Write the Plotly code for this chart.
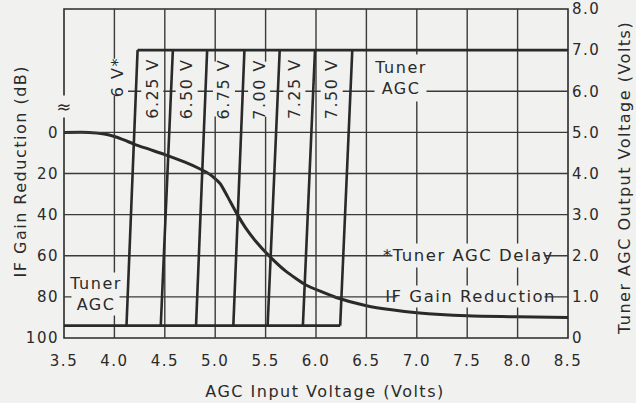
import plotly.graph_objects as go

# ---------------- data ----------------
x_ticks = [3.5, 4.0, 4.5, 5.0, 5.5, 6.0, 6.5, 7.0, 7.5, 8.0, 8.5]
x_tick_labels = ["3.5", "4.0", "4.5", "5.0", "5.5", "6.0", "6.5", "7.0", "7.5", "8.0", "8.5"]
db_ticks = [0, 20, 40, 60, 80, 100]
db_tick_labels = ["0", "20", "40", "60", "80", "100"]
v_ticks = [0, 1, 2, 3, 4, 5, 6, 7, 8]
v_tick_labels = ["0", "1.0", "2.0", "3.0", "4.0", "5.0", "6.0", "7.0", "8.0"]

# IF gain reduction curve (AGC input volts, dB)
if_input_v = [3.5, 3.75, 3.9, 4.0, 4.1, 4.2, 4.35, 4.5, 4.7, 4.85, 4.95, 5.05, 5.12,
              5.22, 5.3, 5.4, 5.55, 5.7, 5.9, 6.2, 6.5, 6.75, 7.0, 7.5, 8.0, 8.5]
if_gain_red_db = [0, 0, 0.8, 2, 3.8, 5.8, 8.3, 10.8, 14.5, 17.8, 20.5, 25, 31,
                  40, 46.3, 52.8, 60.8, 67.5, 74.2, 80.3, 84.3, 86.3, 87.7, 89.2, 89.7, 90.0]

# Tuner AGC output for each delay setting
delay_labels = ["6 V*", "6.25 V", "6.50 V", "6.75 V", "7.00 V", "7.25 V", "7.50 V"]
tuner_start_v = [4.12, 4.46, 4.81, 5.18, 5.52, 5.87, 6.24]   # input V where output leaves floor
tuner_end_v = [4.23, 4.58, 4.92, 5.29, 5.64, 5.99, 6.36]     # input V where output saturates
tuner_floor_v = 0.3
tuner_sat_v = 7.0

# ---------------- style ----------------
PAPER = "#f1f1ef"
INK = "#2a2a2a"
GRID = "#3a3a3a"
FONT = "DejaVu Sans"

X0, X1 = x_ticks[0], x_ticks[-1]
V0, V1 = v_ticks[0], v_ticks[-1]
DB_BOTTOM, DB_TOP = db_ticks[-1], -60   # left axis range (reversed) spanning V0..V1

fig = go.Figure()

# ---------------- grid (drawn first, under the curves) ----------------
gx, gy = [], []
for xv in x_ticks[1:-1]:
    gx += [xv, xv, None]
    gy += [V0, V1, None]
for vv in v_ticks[1:-1]:
    start = X0
    if vv >= 6:
        start = 3.93 if vv == 6 else tuner_end_v[0]
    gx += [start, X1, None]
    gy += [vv, vv, None]
fig.add_trace(go.Scatter(x=gx, y=gy, mode="lines", line=dict(color=GRID, width=1.4),
                         yaxis="y2", hoverinfo="skip", showlegend=False, connectgaps=False))

# IF gain reduction on the left (dB) axis
fig.add_trace(go.Scatter(
    x=if_input_v, y=if_gain_red_db, mode="lines",
    line=dict(color=INK, width=3, shape="spline", smoothing=0.5),
    yaxis="y", hoverinfo="skip", showlegend=False))

# Tuner AGC curves on right (V) axis
tx, ty = [], []
for a, b in zip(tuner_start_v, tuner_end_v):
    tx += [a, b, None]
    ty += [tuner_floor_v, tuner_sat_v, None]
tx += [X0, tuner_start_v[-1], None, tuner_end_v[0], X1]
ty += [tuner_floor_v, tuner_floor_v, None, tuner_sat_v, tuner_sat_v]
fig.add_trace(go.Scatter(
    x=tx, y=ty, mode="lines", line=dict(color=INK, width=2.6),
    yaxis="y2", hoverinfo="skip", showlegend=False, connectgaps=False))

shapes = [dict(type="rect", xref="paper", yref="paper", x0=0, x1=1, y0=0, y1=1,
               line=dict(color=INK, width=1.6), layer="below")]

# ---------------- annotations ----------------
ann = []
lab_font = dict(family=FONT, size=16, color=INK)
label_v = 6.06
for lab, a, b in zip(delay_labels, tuner_start_v, tuner_end_v):
    xc = a + (b - a) * (label_v - tuner_floor_v) / (tuner_sat_v - tuner_floor_v) - 0.185
    yc = label_v + (0.29 if lab.startswith("6 V") else 0)
    ann.append(dict(x=xc, y=yc, xref="x", yref="y2", text=lab, showarrow=False,
                    textangle=-90, font=lab_font, bgcolor=PAPER, borderpad=1,
                    xanchor="center", yanchor="middle"))

ann += [
    dict(x=6.84, y=6.33, xref="x", yref="y2", text="Tuner<br>AGC", showarrow=False,
         font=lab_font, bgcolor=PAPER, borderpad=3, align="center"),
    dict(x=3.81, y=1.08, xref="x", yref="y2", text="Tuner<br>AGC", showarrow=False,
         font=lab_font, bgcolor=PAPER, borderpad=1, align="center"),
    dict(x=7.51, y=2.0, xref="x", yref="y2", text="*Tuner AGC Delay", showarrow=False,
         font=dict(family=FONT, size=16.5, color=INK), bgcolor=PAPER, borderpad=2),
    dict(x=7.53, y=1.0, xref="x", yref="y2", text="IF Gain Reduction", showarrow=False,
         font=dict(family=FONT, size=16.5, color=INK), bgcolor=PAPER, borderpad=1),
    dict(x=0, y=5.64, xref="paper", yref="y2", text="≈", showarrow=False,
         font=dict(family=FONT, size=18, color=INK), bgcolor=PAPER, borderpad=0,
         xanchor="center", yanchor="middle"),
    dict(x=0.518, y=-0.164, xref="paper", yref="paper", text="AGC Input Voltage (Volts)",
         showarrow=False, font=lab_font, xanchor="center", yanchor="middle"),
    dict(x=-0.085, y=0.508, xref="paper", yref="paper", text="IF Gain Reduction (dB)",
         showarrow=False, font=lab_font, textangle=-90, xanchor="center", yanchor="middle"),
    dict(x=1.111, y=0.486, xref="paper", yref="paper", text="Tuner AGC Output Voltage (Volts)",
         showarrow=False, font=lab_font, textangle=-90, xanchor="center", yanchor="middle"),
]

tick_font = dict(family=FONT, size=15, color=INK)
fig.update_layout(
    width=636, height=403,
    margin=dict(l=64, r=68, t=9, b=65, autoexpand=False),
    paper_bgcolor=PAPER, plot_bgcolor="rgba(0,0,0,0)",
    showlegend=False,
    shapes=shapes, annotations=ann,
    xaxis=dict(range=[X0, X1], tickvals=x_ticks, ticktext=x_tick_labels, showgrid=False,
               zeroline=False, showline=False, ticks="", tickfont=tick_font,
               ticklabelstandoff=12, fixedrange=True),
    yaxis=dict(range=[DB_BOTTOM, DB_TOP], tickvals=db_ticks, ticktext=db_tick_labels,
               showgrid=False, zeroline=False, showline=False, ticks="",
               tickfont=tick_font, ticklabelstandoff=4, fixedrange=True),
    yaxis2=dict(range=[V0, V1], tickvals=v_ticks, ticktext=v_tick_labels, overlaying="y",
                side="right", showgrid=False, zeroline=False, showline=False, ticks="",
                tickfont=tick_font, ticklabelstandoff=3, fixedrange=True),
)

post = """
document.documentElement.style.margin = '0';
document.body.style.margin = '0';
document.body.style.background = '%s';
var s = document.createElement('style');
s.textContent = 'svg text{letter-spacing:1.5px;}';
document.head.appendChild(s);
""" % PAPER

fig.write_html("out.html", config=dict(displayModeBar=False, staticPlot=True), post_script=post)
